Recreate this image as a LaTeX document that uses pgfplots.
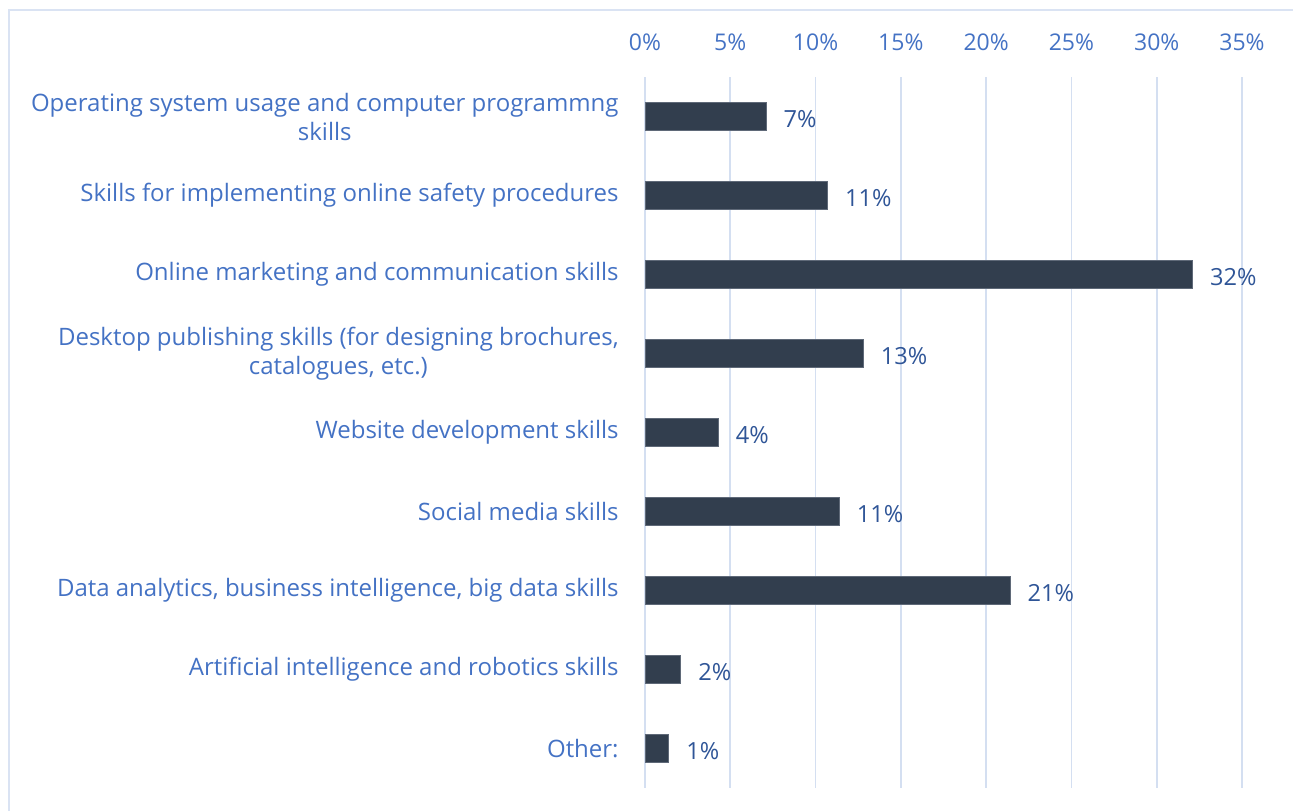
\documentclass[border=0pt]{standalone}
\usepackage{pgfplots}
\pgfplotsset{compat=1.18}
\usepackage{fontspec}
\setmainfont{Open Sans}

\definecolor{barCol}{RGB}{50,62,78}
\definecolor{barEdge}{RGB}{95,105,120}
\definecolor{tickBlue}{RGB}{68,114,196}
\definecolor{valBlue}{RGB}{47,85,151}
\definecolor{gridCol}{RGB}{212,223,241}
\definecolor{frameCol}{RGB}{218,227,243}

\begin{document}
\begin{tikzpicture}
% page = 1293 x 811 px at 0.5pt per px
\useasboundingbox (0,0) rectangle (646.5pt,405.5pt);
\draw[frameCol, line width=1pt] (4.5pt,0) -- (4.5pt,400.5pt) -- (646.5pt,400.5pt);

\begin{axis}[
    at={(322.5pt,11.5pt)},
    anchor=south west,
    scale only axis,
    width=298.5pt,
    height=355.5pt,
    xbar,
    bar width=14pt,
    xmin=0, xmax=35,
    ymin=-0.5, ymax=8.5,
    y dir=reverse,
    axis line style={draw=none},
    major tick length=0pt,
    xtick={0,5,...,35},
    xticklabels={0\%,5\%,10\%,15\%,20\%,25\%,30\%,35\%},
    xticklabel pos=upper,
    xticklabel style={anchor=base, yshift=13.5pt, inner sep=0pt,
        font=\fontsize{11.5}{14.5}\selectfont},
    xmajorgrids=true,
    grid style={gridCol, line width=0.8pt},
    ytick={0,...,8},
    yticklabels={
        {Operating system usage and computer programmng\\skills},
        {Skills for implementing online safety procedures},
        {Online marketing and communication skills},
        {Desktop publishing skills (for designing brochures,\\catalogues, etc.)},
        {Website development skills},
        {Social media skills},
        {Data analytics, business intelligence, big data skills},
        {Artificial intelligence and robotics skills},
        {Other:}
    },
    yticklabel style={align=center, anchor=east, inner sep=0pt, xshift=-13pt,
        font=\fontsize{12}{14.5}\selectfont},
    tick label style={text=tickBlue},
    point meta=explicit symbolic,
    nodes near coords,
    nodes near coords style={font=\fontsize{11.8}{14}\selectfont, text=valBlue,
        anchor=west, inner sep=0pt, xshift=8.5pt, yshift=-1.5pt},
]
\addplot[fill=barCol, draw=barEdge, line width=0.5pt] coordinates {
    (7.1,0) [7\%]
    (10.7,1) [11\%]
    (32.1,2) [32\%]
    (12.8,3) [13\%]
    (4.3,4) [4\%]
    (11.4,5) [11\%]
    (21.4,6) [21\%]
    (2.1,7) [2\%]
    (1.4,8) [1\%]
};
\end{axis}
\end{tikzpicture}
\end{document}
